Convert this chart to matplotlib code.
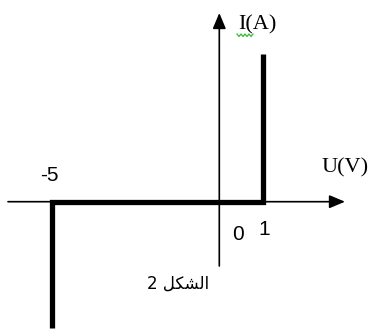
import numpy as np
import matplotlib
matplotlib.use("Agg")
import matplotlib.pyplot as plt
from matplotlib.transforms import IdentityTransform

# ---- data (characteristic of the component) ----
U_curve = [-5, -5, 1, 1]          # volts
I_curve = [-2.57, 0, 0, 3.0]      # amperes (arbitrary scale, no I ticks)
U_ticks = [-5, 0, 1]
U_tick_labels = ["-5", "0", "1"]
x_label = "U(V)"
y_label = "I(A)"
caption = "\u0627\u0644\u0634\u0643\u0644 2"  # "الشكل 2"

# ---- layout ----
W, H = 374, 331
DPI = 100
fig = plt.figure(figsize=(W / DPI, H / DPI), dpi=DPI)
ax = fig.add_axes([0, 0, 1, 1])
ax.axis("off")

# The drawing is not to scale: negative and positive voltages use different units
K_NEG, K_POS = 33.52, 43.4


def fwd(x):
    x = np.asarray(x, dtype=float)
    return np.where(x < 0, x * K_NEG, x * K_POS)


def inv(p):
    p = np.asarray(p, dtype=float)
    return np.where(p < 0, p / K_NEG, p / K_POS)


ax.set_xscale("function", functions=(fwd, inv))
ax.set_xlim(-219.3 / K_NEG, (W - 219.3) / K_POS)
PX_Y = 49.2
ax.set_ylim(-(H - 201.7) / PX_Y, 201.7 / PX_Y)

# axes with arrows
arrow = dict(arrowstyle="-|>,head_length=0.95,head_width=0.4", mutation_scale=10,
             lw=1.2, color="black", shrinkA=0, shrinkB=0)
ax.annotate("", xy=(345 / W, 0), xytext=(8 / W, 0),
            xycoords=("axes fraction", "data"), textcoords=("axes fraction", "data"),
            arrowprops=arrow)
ax.annotate("", xy=(0, 1 - 13 / H), xytext=(0, 1 - 266 / H),
            xycoords=("data", "axes fraction"), textcoords=("data", "axes fraction"),
            arrowprops=arrow)

# characteristic
ax.plot(U_curve, I_curve, color="black", lw=3.8, solid_joinstyle="miter",
        solid_capstyle="butt")

# labels
serif = "Liberation Serif"
offsets = {"-5": (-2, 26), "0": (19, -33), "1": (1.5, -28)}
for u, lab in zip(U_ticks, U_tick_labels):
    ax.annotate(lab, xy=(u, 0), xytext=offsets[lab], textcoords="offset pixels",
                ha="center", va="center", fontsize=15, family="Liberation Sans")

ax.annotate(y_label, xy=(0, 0), xytext=(38, 177), textcoords="offset pixels",
            ha="center", va="center", fontsize=16, family=serif)
ax.annotate(x_label, xy=(0, 0), xytext=(126, 34), textcoords="offset pixels",
            ha="center", va="center", fontsize=16, family=serif)

# caption (Arabic, shaped presentation forms in visual order)
shaped = "2 " + "\uFEDE\uFEDC\uFEB8\uFEDF\uFE8D"
ax.annotate(shaped, xy=(0, 0), xytext=(-41, -82), textcoords="offset pixels",
            ha="center", va="center", fontsize=12, family="DejaVu Sans")

# green spell-check squiggle under "I"
zx = np.linspace(237, 253, 9)
zy = np.where(np.arange(9) % 2 == 0, H - 34, H - 36.5)
fig.add_artist(plt.Line2D(zx, zy, transform=IdentityTransform(),
                          color="#33bb33", lw=0.9))

fig.savefig("out.png", dpi=DPI)
